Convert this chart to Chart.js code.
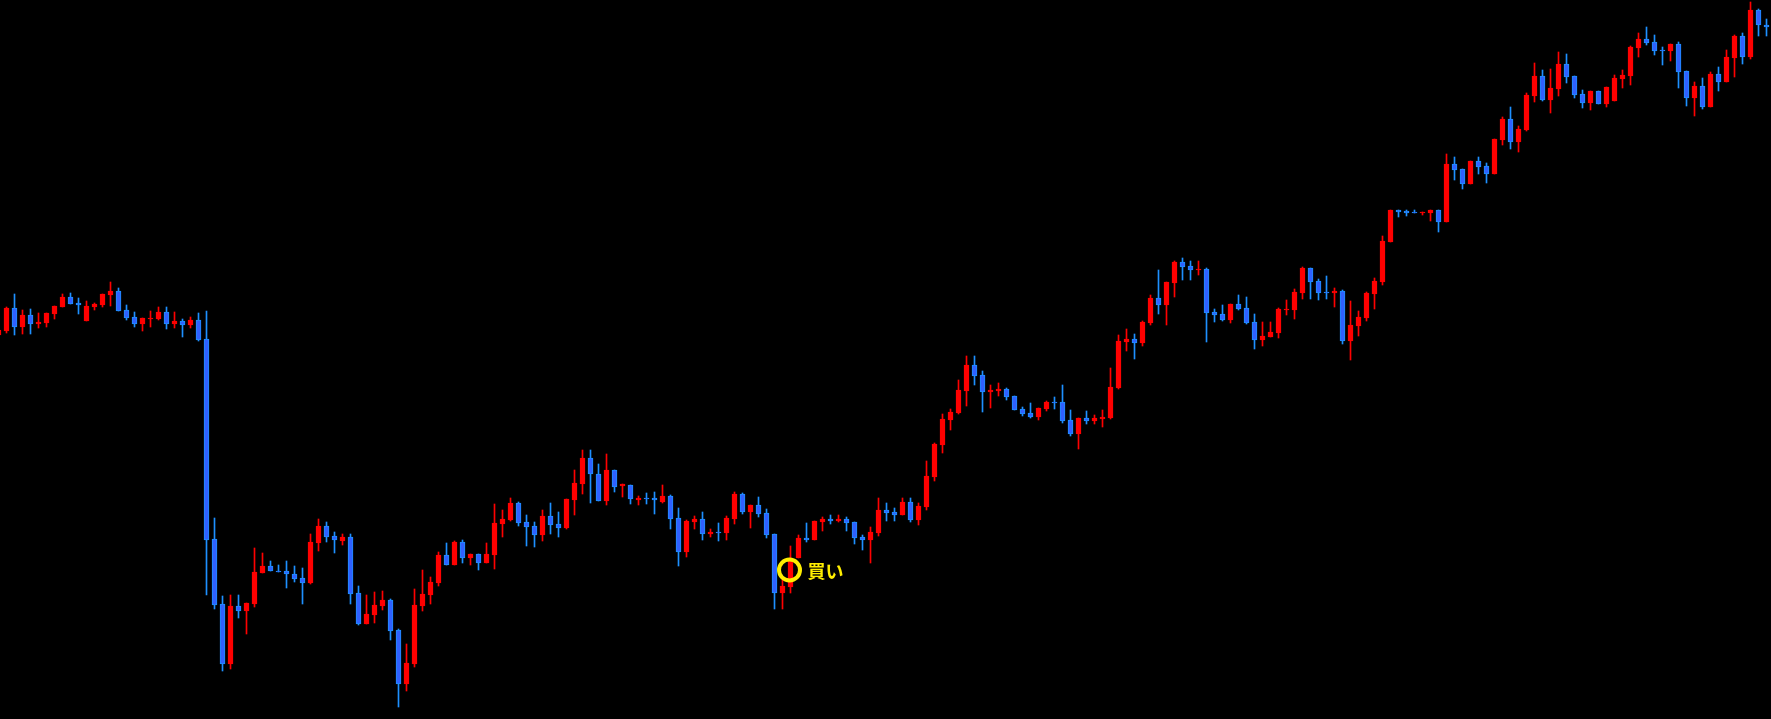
<!DOCTYPE html>
<html lang="ja">

<head>
    <meta charset="UTF-8">
    <title>買いシグナル</title>
    <style>
        html, body {
            margin: 0;
            padding: 0;
            background: #000;
        }

        .wrap {
            position: relative;
            width: 1771px;
            height: 719px;
        }
    </style>
</head>

<body>
    <div class="wrap">
        <canvas id="myChart"></canvas>
    </div>

    <script src="https://cdn.jsdelivr.net/npm/chart.js"></script>

    <script>
        // OHLC per candle (oldest first)
        const open = [
            385, 389, 412, 393, 405, 396, 397, 406, 413, 423,
            417, 399, 413, 415, 425, 429, 410, 403, 396, 401,
            401, 408, 396, 399, 395, 400, 381, 181, 116, 56,
            114, 109, 116, 147, 154, 149, 149, 146, 142, 137,
            177, 194, 184, 179, 183, 127, 96, 105, 114, 120,
            90, 36, 56, 114, 125, 137, 165, 155, 178, 162,
            166, 157, 165, 196, 200, 217, 198, 194, 185, 204,
            196, 192, 220, 236, 262, 246, 219, 250, 234, 235,
            220, 222, 222, 218, 224, 202, 168, 198, 201, 186,
            188, 187, 201, 226, 208, 215, 207, 186, 127, 133,
            162, 182, 180, 198, 201, 199, 201, 198, 183, 180,
            187, 210, 208, 205, 218, 200, 213, 243, 275, 300,
            307, 329, 355, 345, 328, 329, 331, 324, 311, 307,
            303, 311, 318, 318, 300, 286, 302, 299, 301, 302,
            332, 378, 381, 377, 397, 422, 415, 437, 458, 454,
            450, 451, 408, 406, 400, 416, 412, 398, 380, 383,
            387, 410, 410, 427, 452, 439, 428, 427, 429, 379,
            394, 402, 426, 438, 478, 510, 509, 508, 507, 507,
            510, 498, 556, 551, 536, 559, 554, 546, 580, 601,
            578, 590, 624, 644, 620, 631, 656, 644, 626, 617,
            629, 616, 619, 641, 644, 672, 681, 678, 670, 669,
            676, 649, 622, 634, 613, 646, 638, 662, 684, 663,
            710, 695
        ];
        const high = [
            391, 413, 426, 410, 411, 407, 407, 414, 426, 427,
            422, 419, 417, 426, 438, 432, 415, 408, 402, 409,
            413, 413, 408, 401, 403, 407, 409, 202, 124, 125,
            125, 117, 172, 167, 159, 155, 159, 154, 152, 186,
            201, 198, 188, 186, 186, 134, 125, 128, 129, 121,
            91, 76, 131, 150, 143, 168, 177, 179, 180, 166,
            166, 177, 216, 210, 222, 218, 205, 198, 210, 217,
            208, 221, 250, 270, 270, 256, 266, 250, 236, 235,
            224, 227, 228, 235, 225, 212, 200, 204, 208, 191,
            197, 204, 228, 227, 215, 223, 211, 186, 143, 174,
            185, 197, 199, 203, 205, 205, 203, 198, 185, 193,
            222, 217, 212, 222, 222, 217, 259, 277, 306, 311,
            340, 364, 364, 349, 335, 337, 332, 324, 313, 317,
            312, 319, 323, 335, 310, 302, 309, 305, 310, 352,
            385, 391, 386, 399, 425, 450, 438, 459, 462, 459,
            459, 452, 411, 415, 416, 425, 423, 406, 398, 398,
            412, 420, 431, 453, 452, 441, 444, 432, 430, 419,
            409, 428, 442, 484, 510, 510, 510, 510, 508, 510,
            510, 566, 563, 551, 559, 563, 557, 581, 603, 613,
            594, 627, 657, 650, 651, 668, 666, 644, 630, 629,
            629, 633, 645, 650, 674, 687, 693, 685, 673, 676,
            678, 649, 638, 642, 648, 653, 670, 685, 687, 718,
            711, 701
        ];
        const low = [
            384, 387, 385, 386, 386, 392, 393, 401, 413, 416,
            406, 399, 410, 413, 414, 409, 400, 393, 389, 393,
            400, 391, 392, 383, 392, 379, 125, 111, 49, 51,
            102, 86, 113, 147, 149, 148, 132, 138, 116, 136,
            169, 178, 167, 175, 116, 95, 96, 97, 110, 80,
            13, 29, 53, 109, 116, 134, 155, 155, 157, 155,
            150, 157, 151, 183, 199, 194, 174, 173, 179, 186,
            183, 191, 205, 226, 217, 219, 215, 228, 223, 216,
            215, 216, 206, 217, 191, 154, 163, 191, 180, 183,
            179, 180, 196, 206, 192, 203, 182, 111, 111, 127,
            162, 178, 180, 189, 196, 198, 189, 176, 170, 157,
            184, 199, 199, 205, 198, 195, 210, 239, 267, 290,
            306, 314, 335, 308, 312, 324, 320, 310, 304, 302,
            300, 309, 311, 297, 284, 271, 296, 296, 293, 301,
            331, 369, 361, 374, 395, 406, 395, 423, 440, 440,
            445, 378, 398, 399, 397, 410, 396, 371, 374, 383,
            382, 405, 401, 421, 421, 420, 421, 413, 376, 360,
            384, 399, 411, 435, 478, 503, 504, 507, 505, 499,
            488, 498, 540, 531, 536, 546, 537, 546, 575, 571,
            568, 589, 618, 619, 607, 624, 637, 622, 612, 610,
            616, 613, 619, 632, 635, 663, 675, 665, 655, 659,
            632, 614, 604, 611, 613, 629, 638, 643, 656, 661,
            684, 684
        ];
        const close = [
            390, 412, 393, 405, 396, 398, 407, 414, 423, 416,
            415, 414, 416, 426, 429, 409, 402, 396, 402, 402,
            408, 396, 399, 395, 400, 380, 180, 115, 56, 114,
            109, 117, 148, 154, 149, 148, 146, 141, 137, 178,
            194, 183, 180, 183, 126, 96, 106, 115, 120, 89,
            36, 57, 115, 126, 138, 165, 155, 178, 162, 166,
            157, 166, 197, 201, 217, 197, 193, 185, 204, 195,
            192, 221, 237, 262, 246, 219, 250, 233, 236, 221,
            222, 221, 220, 224, 201, 168, 199, 201, 186, 188,
            187, 202, 226, 208, 215, 206, 185, 127, 134, 159,
            182, 180, 199, 201, 199, 201, 197, 182, 180, 188,
            210, 207, 205, 218, 200, 214, 244, 276, 301, 308,
            330, 355, 344, 328, 330, 331, 323, 310, 306, 303,
            312, 318, 317, 299, 286, 302, 299, 302, 303, 333,
            379, 381, 377, 398, 422, 415, 438, 458, 453, 450,
            451, 407, 405, 400, 416, 411, 397, 380, 384, 388,
            411, 411, 428, 452, 438, 427, 427, 429, 379, 395,
            403, 427, 439, 479, 510, 508, 507, 507, 508, 510,
            498, 556, 550, 536, 559, 553, 546, 581, 601, 578,
            591, 625, 644, 620, 632, 656, 643, 625, 617, 629,
            616, 633, 642, 645, 673, 681, 677, 669, 669, 676,
            648, 622, 634, 613, 646, 638, 663, 684, 663, 710,
            695, 693
        ];

        // buy signal marker
        const buyIndex = 99;
        const buyLevel = 150;
        const buyLabel = '買い';

        const upColor = '#ff0000';
        const downColor = '#1e90ff';
        const downFill = '#3060ff';

        const isUp = open.map((o, i) => close[i] > o);

        const bodies = open.map((o, i) => ({ x: i, y: [o, close[i]] }));
        const wicks = open.map((o, i) => ({ x: i, y: [low[i], high[i]] }));

        // yellow circle + text, placed through the scales
        const buyMarker = {
            id: 'buyMarker',
            afterDatasetsDraw(chart) {
                const ctx = chart.ctx;
                const x = chart.scales.x.getPixelForValue(buyIndex);
                const y = chart.scales.y.getPixelForValue(buyLevel);
                ctx.save();
                ctx.strokeStyle = '#ffee00';
                ctx.lineWidth = 4;
                ctx.beginPath();
                ctx.arc(x - 1, y, 10.5, 0, Math.PI * 2);
                ctx.stroke();
                ctx.fillStyle = '#ffee00';
                ctx.font = 'bold 18px "Noto Sans CJK JP", sans-serif';
                ctx.textBaseline = 'middle';
                ctx.fillText(buyLabel, x + 17, y + 1);
                ctx.restore();
            }
        };

        const config = {
            type: 'bar',
            data: {
                datasets: [{
                    label: 'body',
                    data: bodies,
                    order: 0,
                    grouped: false,
                    barThickness: 5,
                    minBarLength: 1,
                    borderWidth: 1,
                    borderSkipped: false,
                    backgroundColor: isUp.map(u => u ? upColor : downFill),
                    borderColor: isUp.map(u => u ? upColor : downColor)
                }, {
                    label: 'wick',
                    data: wicks,
                    order: 1,
                    grouped: false,
                    barThickness: 1,
                    borderWidth: 0,
                    backgroundColor: isUp.map(u => u ? upColor : downColor)
                }]
            },
            options: {
                responsive: true,
                maintainAspectRatio: false,
                animation: false,
                events: [],
                layout: { padding: 0 },
                plugins: {
                    legend: { display: false },
                    tooltip: { enabled: false }
                },
                scales: {
                    x: {
                        type: 'linear',
                        display: false,
                        offset: false,
                        min: 0.1875,
                        max: 221.5625
                    },
                    y: {
                        display: false,
                        min: 1,
                        max: 720
                    }
                }
            },
            plugins: [buyMarker]
        };

        const myChart = new Chart(document.getElementById('myChart'), config);
    </script>
</body>

</html>
